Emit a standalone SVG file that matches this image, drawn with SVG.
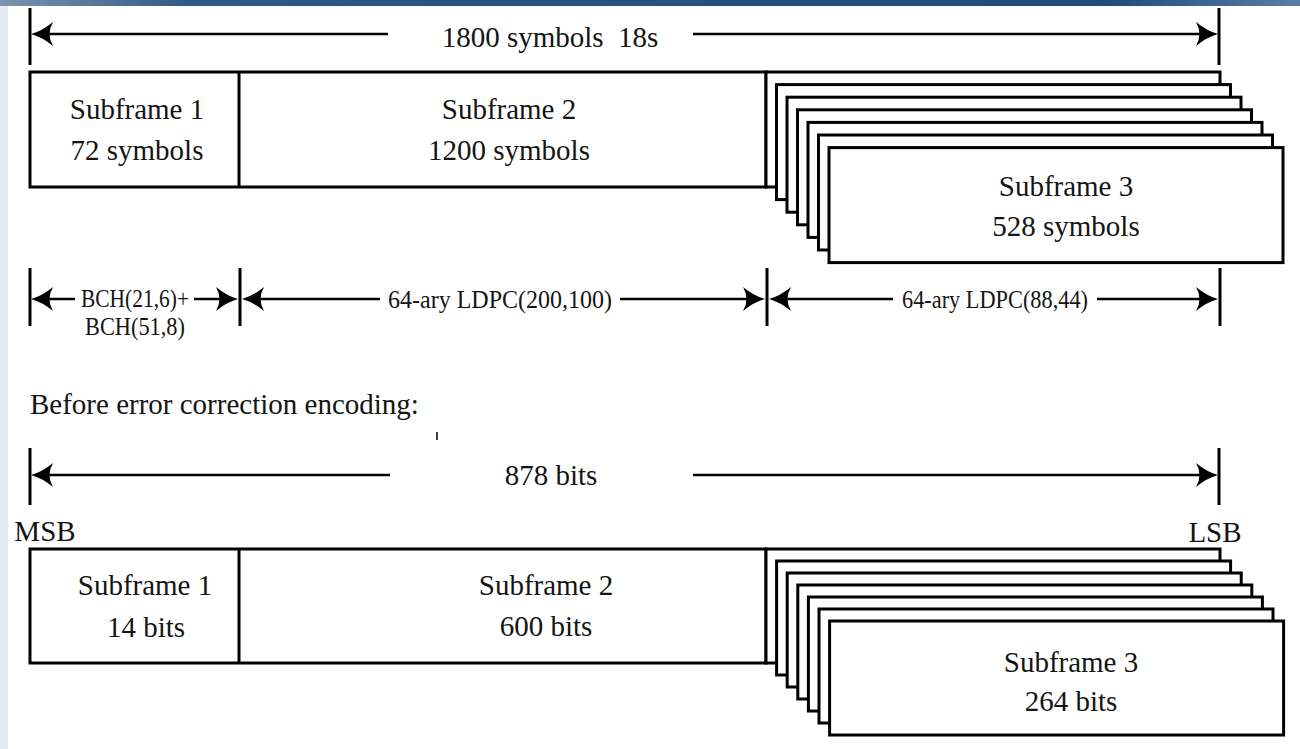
<svg xmlns="http://www.w3.org/2000/svg" width="1300" height="749" viewBox="0 0 1300 749">
  <defs>
    <linearGradient id="topbar" x1="0" y1="0" x2="1" y2="0">
      <stop offset="0" stop-color="#7d93ae"/>
      <stop offset="0.15" stop-color="#2d5883"/>
      <stop offset="0.85" stop-color="#1f4b79"/>
      <stop offset="1" stop-color="#5a7ea5"/>
    </linearGradient>
    <marker id="ah" viewBox="-24 -13 26 26" refX="-9" refY="0" markerWidth="26" markerHeight="26" markerUnits="userSpaceOnUse" orient="auto">
      <path d="M0,0 Q-11,-3 -22,-12 Q-15,0 -22,12 Q-11,3 0,0 Z" fill="#000"/>
    </marker>
    <style>
      .lbl { font-family: "Liberation Serif", "Times New Roman", serif; fill: #141414; text-anchor: middle; }
      .big { font-size: 29px; }
      .sm { font-size: 25px; }
      .frame { fill: #fff; stroke: #000; stroke-width: 3; }
      .div { stroke: #000; stroke-width: 3; }
      .tick { stroke: #000; stroke-width: 3; }
      .dim { stroke: #000; stroke-width: 2.6; marker-end: url(#ah); }
    </style>
  </defs>

  <rect x="0" y="0" width="1300" height="749" fill="#fff"/>
  <rect x="0" y="6" width="8" height="743" fill="#e4e9ef"/>
  <rect x="0" y="0" width="1300" height="6" fill="url(#topbar)"/>

  <!-- Encoded frame (top) -->
  <g id="top-frame">
    <rect class="frame" x="30" y="72" width="736" height="115"/>
    <line class="div" x1="239" y1="72" x2="239" y2="187"/>
  </g>
  <g id="top-subframe1">
    <text class="lbl big" x="137" y="119">Subframe 1</text>
    <text class="lbl big" x="137" y="160">72 symbols</text>
  </g>
  <g id="top-subframe2">
    <text class="lbl big" x="509" y="119">Subframe 2</text>
    <text class="lbl big" x="509" y="160">1200 symbols</text>
  </g>
  <g id="top-subframe3">
    <rect class="frame" x="766" y="72" width="454" height="115"/>
    <rect class="frame" x="776.5" y="84.6" width="454" height="115"/>
    <rect class="frame" x="787" y="97.2" width="454" height="115"/>
    <rect class="frame" x="797.5" y="109.8" width="454" height="115"/>
    <rect class="frame" x="808" y="122.4" width="454" height="115"/>
    <rect class="frame" x="818.5" y="135" width="454" height="115"/>
    <rect class="frame" x="829" y="147.6" width="454" height="115"/>
    <text class="lbl big" x="1066" y="196">Subframe 3</text>
    <text class="lbl big" x="1066" y="236">528 symbols</text>
  </g>

  <!-- Un-encoded frame (bottom) -->
  <g id="bottom-frame">
    <rect class="frame" x="30" y="549" width="736" height="114"/>
    <line class="div" x1="239" y1="549" x2="239" y2="663"/>
  </g>
  <g id="bottom-subframe1">
    <text class="lbl big" x="145" y="595">Subframe 1</text>
    <text class="lbl big" x="146" y="637">14 bits</text>
  </g>
  <g id="bottom-subframe2">
    <text class="lbl big" x="546" y="595">Subframe 2</text>
    <text class="lbl big" x="546" y="636">600 bits</text>
  </g>
  <g id="bottom-subframe3">
    <rect class="frame" x="766" y="549" width="454" height="114"/>
    <rect class="frame" x="776.6" y="561" width="454" height="114"/>
    <rect class="frame" x="787.2" y="573" width="454" height="114"/>
    <rect class="frame" x="797.8" y="585" width="454" height="114"/>
    <rect class="frame" x="808.4" y="597" width="454" height="114"/>
    <rect class="frame" x="819" y="609" width="454" height="114"/>
    <rect class="frame" x="829.6" y="621" width="454" height="114"/>
    <text class="lbl big" x="1071" y="672">Subframe 3</text>
    <text class="lbl big" x="1071" y="711">264 bits</text>
  </g>

  <!-- Labels -->
  <g id="labels">
    <text class="lbl big" x="550" y="47" xml:space="preserve">1800 symbols  18s</text>
    <text class="lbl sm" x="135" y="307" textLength="108" lengthAdjust="spacingAndGlyphs">BCH(21,6)+</text>
    <text class="lbl sm" x="135" y="335" textLength="100" lengthAdjust="spacingAndGlyphs">BCH(51,8)</text>
    <text class="lbl sm" x="500" y="308" textLength="224" lengthAdjust="spacingAndGlyphs">64-ary LDPC(200,100)</text>
    <text class="lbl sm" x="995" y="308" textLength="186" lengthAdjust="spacingAndGlyphs">64-ary LDPC(88,44)</text>
    <text class="lbl big" x="30" y="414" style="text-anchor:start">Before error correction encoding:</text>
    <text class="lbl big" x="551" y="485">878 bits</text>
    <text class="lbl big" x="45" y="541">MSB</text>
    <text class="lbl big" x="1215" y="542">LSB</text>
    <line x1="437" y1="432" x2="437" y2="440" stroke="#000" stroke-width="1.5"/>
  </g>

  <!-- Connectors: dimension lines -->
  <g id="connectors">
    <line class="tick" x1="30" y1="8" x2="30" y2="65"/>
    <line class="tick" x1="1219" y1="8" x2="1219" y2="65"/>
    <line class="dim" x1="388" y1="34" x2="40" y2="34"/>
    <line class="dim" x1="693" y1="34" x2="1209" y2="34"/>

    <line class="tick" x1="30" y1="268" x2="30" y2="326"/>
    <line class="tick" x1="240" y1="268" x2="240" y2="326"/>
    <line class="tick" x1="767" y1="268" x2="767" y2="326"/>
    <line class="tick" x1="1220" y1="268" x2="1220" y2="326"/>
    <line class="dim" x1="75" y1="299" x2="40" y2="299"/>
    <line class="dim" x1="194" y1="299" x2="229" y2="299"/>
    <line class="dim" x1="380" y1="299" x2="251" y2="299"/>
    <line class="dim" x1="620" y1="299" x2="756" y2="299"/>
    <line class="dim" x1="893" y1="299" x2="778" y2="299"/>
    <line class="dim" x1="1097" y1="299" x2="1209" y2="299"/>

    <line class="tick" x1="30" y1="448" x2="30" y2="505"/>
    <line class="tick" x1="1219" y1="448" x2="1219" y2="505"/>
    <line class="dim" x1="390" y1="475" x2="40" y2="475"/>
    <line class="dim" x1="693" y1="475" x2="1209" y2="475"/>
  </g>
</svg>
